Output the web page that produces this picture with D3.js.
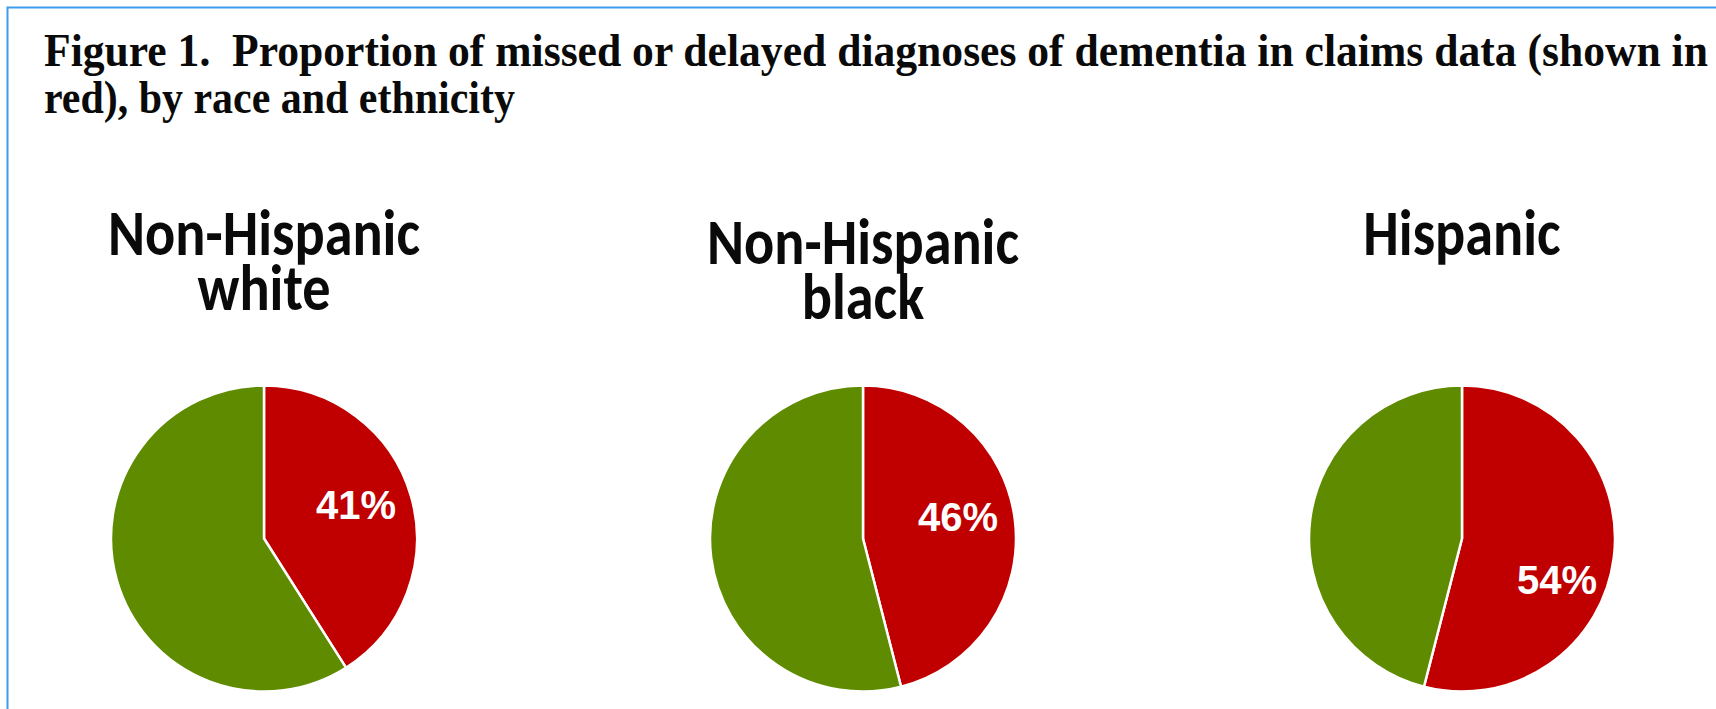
<!DOCTYPE html>
<html><head><meta charset="utf-8">
<script src="https://cdn.jsdelivr.net/npm/d3@7"></script>
<style>html,body{margin:0;padding:0;background:#fff;overflow:hidden}</style>
</head><body><svg id="c" width="1716" height="709"></svg>
<script>
// ---- data ----
const titleLines = ["Figure 1.  Proportion of missed or delayed diagnoses of dementia in claims data (shown in", "red), by race and ethnicity"];
const groups = ["Non-Hispanic white", "Non-Hispanic black", "Hispanic"];
const groupTitleLines = [["Non-Hispanic", "white"], ["Non-Hispanic", "black"], ["Hispanic"]];
const sliceNames = ["Missed or delayed", "Diagnosed"];
const missedPct = [41, 46, 54];
const diagnosedPct = [59, 54, 46];
const sliceColors = ["#c00000", "#5e8b00"];

// ---- layout ----
const W = 1716, H = 709;
const svg = d3.select("#c");
const pieCY = 538.5, R = 153;
const titleDy = [0, 9, 0];          // small vertical offsets of group titles
const labelNudge = [[-2, -7], [-2, -10], [-2, 29]];

// border (top + left only, as in the cropped reference)
svg.append("path")
  .attr("d", `M7.5,${H} L7.5,7.5 L${W},7.5`)
  .attr("fill", "none").attr("stroke", "#3d9be9").attr("stroke-width", 2);

// title: two lines, each condensed to the reference width
const titleBase = [66, 113];
const titleRight = [1708, 515];
titleLines.forEach((line, i) => {
  const t = svg.append("text")
    .attr("x", 0).attr("y", 0)
    .style("white-space", "pre")
    .attr("font-family", "'Liberation Serif', 'Times New Roman', serif")
    .attr("font-weight", "bold").attr("font-size", 47).attr("fill", "#0a0a0a")
    .text(line);
  const w = t.node().getComputedTextLength();
  const s = (titleRight[i] - 44) / w;
  t.attr("transform", `translate(44,${titleBase[i]}) scale(${s},1)`);
});

// pies
const x = d3.scalePoint().domain(groups).range([264, 1462]);
const pie = d3.pie().sort(null).value(d => d.value);
const arc = d3.arc().innerRadius(0).outerRadius(R);
const labelArc = d3.arc().innerRadius(R * 0.64).outerRadius(R * 0.64);

// group-title condensing factor from the widest line
const probe = svg.append("text")
  .attr("font-family", "Carlito, Lato, 'Open Sans', sans-serif")
  .attr("font-weight", "bold").attr("font-size", 64).text(groupTitleLines[0][0]);
const gsx = 312 / probe.node().getComputedTextLength();
probe.remove();

groups.forEach((g, gi) => {
  const cx = x(g);
  const data = [
    { name: sliceNames[0], value: missedPct[gi] },
    { name: sliceNames[1], value: diagnosedPct[gi] }
  ];
  const gg = svg.append("g").attr("transform", `translate(${cx},${pieCY})`);
  const arcs = pie(data);
  gg.selectAll("path").data(arcs).join("path")
    .attr("d", arc)
    .attr("fill", (d, i) => sliceColors[i])
    .attr("stroke", "#fff").attr("stroke-width", 2.5).attr("stroke-linejoin", "round");

  const c = labelArc.centroid(arcs[0]);
  gg.append("text")
    .attr("x", c[0] + labelNudge[gi][0]).attr("y", c[1] + labelNudge[gi][1])
    .attr("text-anchor", "middle").attr("dy", "0.36em")
    .attr("font-family", "'Liberation Sans', Arial, sans-serif")
    .attr("font-weight", "bold").attr("font-size", 40).attr("fill", "#fff")
    .text(missedPct[gi] + "%");

  // group title
  svg.append("g").selectAll("text").data(groupTitleLines[gi]).join("text")
    .attr("transform", (d, i) => `translate(${cx},${255 + titleDy[gi] + i * 55}) scale(${gsx},1)`)
    .attr("text-anchor", "middle")
    .attr("font-family", "Carlito, Lato, 'Open Sans', sans-serif")
    .attr("font-weight", "bold").attr("font-size", 64).attr("fill", "#0a0a0a")
    .text(d => d);
});
</script></body></html>
